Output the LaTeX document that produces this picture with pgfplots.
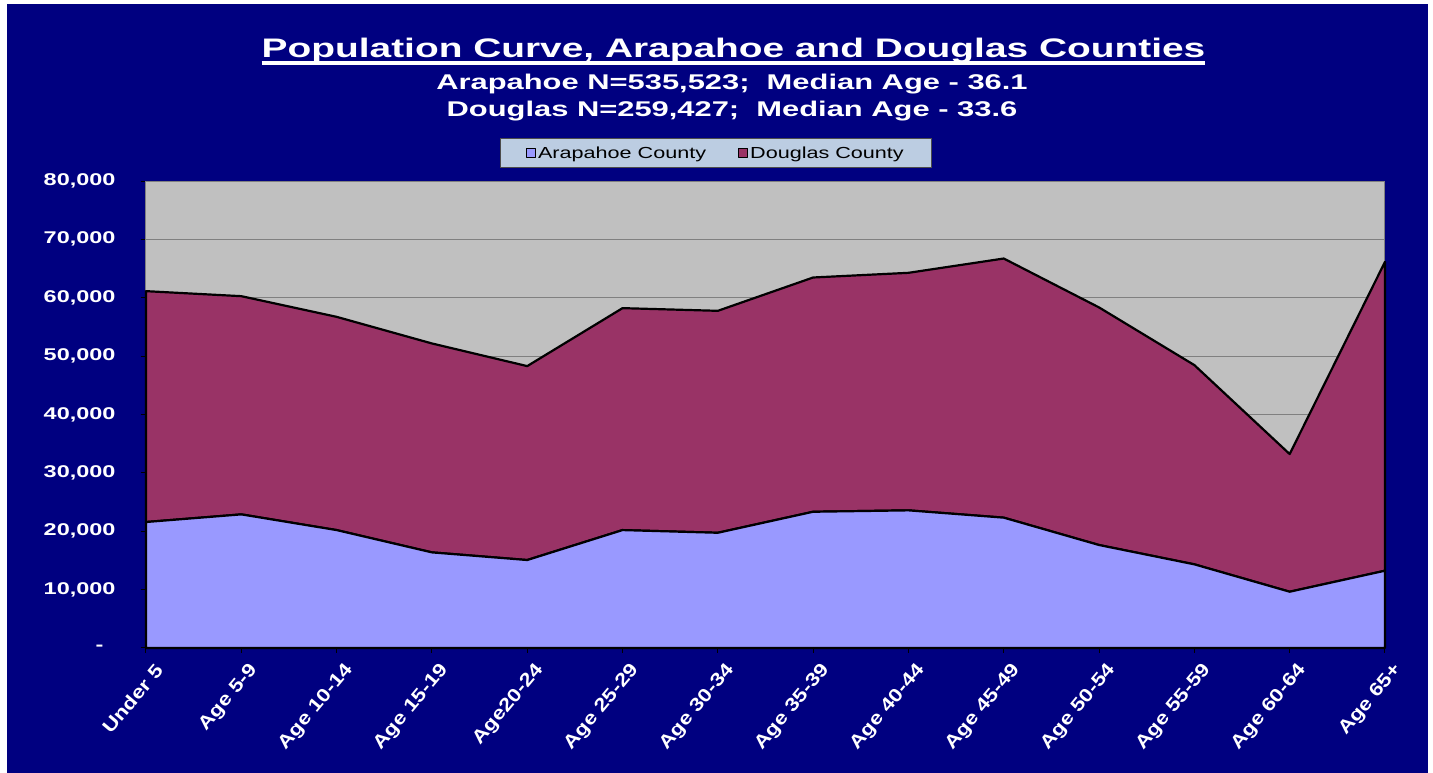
\documentclass[border=0pt]{standalone}
\usepackage{fontspec}
\setmainfont{Liberation Sans}
\newfontfamily\titlefont[FakeStretch=1.45]{Liberation Sans}
\newfontfamily\tickfont[FakeStretch=1.38]{Liberation Sans}
\newfontfamily\xlabfont[FakeStretch=1.2]{Liberation Sans}
\newfontfamily\legfont[FakeStretch=1.35]{Liberation Sans}
\usepackage{pgfplots}
\pgfplotsset{compat=1.18}
\definecolor{navybg}{HTML}{000080}
\definecolor{plotbg}{HTML}{C0C0C0}
\definecolor{arap}{HTML}{9999FF}
\definecolor{doug}{HTML}{993366}
\definecolor{legbg}{HTML}{BCCDE2}
\definecolor{gridc}{HTML}{808080}
\begin{document}
\begin{tikzpicture}
\fill[white] (-146pt,-125pt) rectangle (1287pt,648pt);
\fill[navybg] (-139pt,-125pt) rectangle (1282pt,644pt);
\node[anchor=base, inner sep=0pt, text=white, font=\titlefont\fontsize{26.8}{30}\selectfont\bfseries] (title) at (587.5pt,590.5pt) {Population Curve, Arapahoe and Douglas Counties};
\draw[white, line width=3.5pt] ([yshift=-5.5pt]title.base west) -- ([yshift=-5.5pt]title.base east);
\node[anchor=base, inner sep=0pt, text=white, font=\titlefont\fontsize{21.3}{24}\selectfont\bfseries] at (586pt,558.7pt) {Arapahoe N=535,523;\ \ Median Age - 36.1};
\node[anchor=base, inner sep=0pt, text=white, font=\titlefont\fontsize{21.3}{24}\selectfont\bfseries] at (586pt,531.3pt) {Douglas N=259,427;\ \ Median Age - 33.6};
\begin{axis}[
  at={(0pt,0pt)}, anchor=south west,
  scale only axis, width=1239pt, height=467pt,
  xmin=0, xmax=13, ymin=0, ymax=80000,
  clip=false,
  stack plots=y,
  axis background/.style={fill=plotbg},
  axis line style={draw=gridc, line width=1pt},
  ymajorgrids, grid style={draw=gridc, line width=1pt},
  tick align=outside, tick pos=left,
  major tick length=5pt,
  tick style={draw=black, line width=1pt},
  scaled y ticks=false,
  xtick={0,...,13},
  xticklabels={Under 5, Age 5-9, Age 10-14, Age 15-19, Age20-24, Age 25-29, Age 30-34, Age 35-39, Age 40-44, Age 45-49, Age 50-54, Age 55-59, Age 60-64, Age 65+},
  ytick={0,10000,...,80000},
  yticklabels={{-\hspace*{12pt}},{10,000},{20,000},{30,000},{40,000},{50,000},{60,000},{70,000},{80,000}},
  yticklabel style={text=white, font=\tickfont\fontsize{17}{17}\selectfont\bfseries, xshift=-22pt},
  xticklabel style={text=white, font=\xlabfont\fontsize{18.5}{18}\selectfont\bfseries, rotate=50, anchor=east, yshift=-19pt, xshift=1pt},
  legend columns=2,
  legend style={at={(0.460,1.060)}, anchor=center, fill=legbg, draw=black!70, line width=0.8pt,
     font=\legfont\fontsize{16}{18}\selectfont, text=black, inner xsep=26pt, inner ysep=6pt,
     /tikz/every even column/.append style={column sep=30pt}},
  legend image code/.code={\draw[#1, draw=black, line width=1pt] (0pt,-4.5pt) rectangle (9pt,4.5pt);},
]
\addplot[fill=arap, draw=black, line width=2.2pt, line join=round] coordinates {
(0,21580) (1,22890) (2,20200) (3,16380) (4,15070) (5,20200) (6,19740)
(7,23340) (8,23580) (9,22330) (10,17640) (11,14330) (12,9640) (13,13240)
} \closedcycle;
\addlegendentry{Arapahoe County}
\addplot[fill=doug, draw=black, line width=2.2pt, line join=round] coordinates {
(0,39550) (1,37380) (2,36530) (3,35790) (4,33220) (5,38020) (6,38020)
(7,40130) (8,40690) (9,44390) (10,40700) (11,34130) (12,23580) (13,52910)
} \closedcycle;
\addlegendentry{Douglas County}
\end{axis}
\pgfresetboundingbox
\path[use as bounding box] (-146pt,-125pt) rectangle (1287pt,648pt);
\end{tikzpicture}
\end{document}
